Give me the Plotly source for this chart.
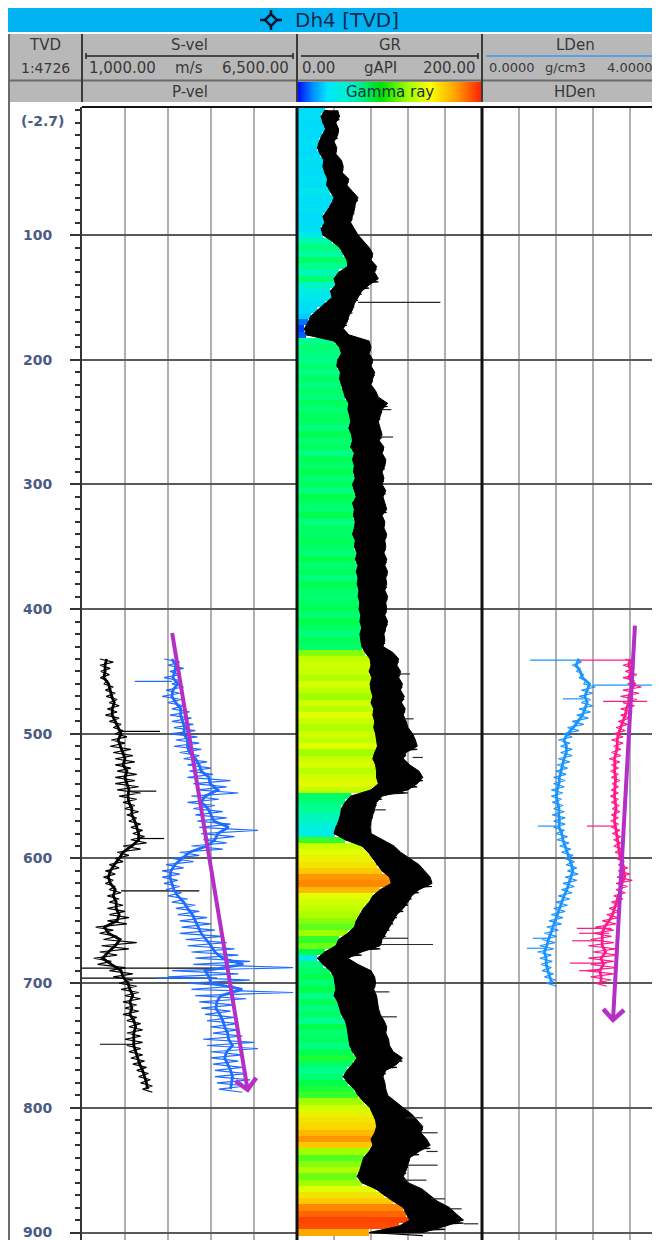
import plotly.graph_objects as go

W, H = 660, 1240
OFF = 8  # the page body adds an 8 px margin, so draw everything 8 px up/left


def px(x):
    return (x - OFF) / W


def py(y):
    return 1 - (y - OFF) / H


# ---------------- data ----------------
# GR track, 5 m samples, left / right edge of the noisy black curve (gAPI)
gr_depth = list(range(0, 905, 5))
gr_lo = [30, 26, 28, 31, 27, 24, 22, 25, 29, 28,
         30, 33, 32, 36, 40, 37, 33, 28, 30, 26,
         28, 38, 46, 50, 54, 55, 45, 40, 42, 36,
         38, 30, 22, 15, 12, 8, 10, 40, 46, 48,
         44, 43, 47, 46, 48, 50, 52, 56, 55, 57,
         58, 56, 59, 60, 58, 62, 60, 62, 61, 63,
         60, 62, 64, 60, 62, 61, 63, 62, 60, 63,
         62, 65, 63, 66, 64, 66, 65, 67, 66, 68,
         67, 69, 68, 70, 68, 69, 70, 74, 79, 80,
         78, 81, 79, 80, 82, 80, 83, 82, 84, 83,
         85, 86, 87, 84, 82, 85, 86, 86, 88, 80,
         58, 52, 48, 47, 45, 42, 40, 52, 70, 77,
         82, 86, 92, 100, 102, 90, 82, 78, 72, 68,
         64, 62, 55, 45, 42, 30, 22, 28, 36, 40,
         41, 42, 40, 44, 46, 48, 52, 54, 55, 56,
         57, 60, 65, 60, 54, 50, 55, 62, 66, 72,
         79, 82, 85, 86, 84, 80, 82, 78, 72, 70,
         68, 65, 70, 85, 94, 104, 115, 118, 122, 110,
         78]
gr_hi = [44, 46, 42, 45, 44, 40, 43, 42, 48, 50,
         49, 56, 54, 60, 66, 63, 62, 60, 58, 62,
         66, 72, 78, 82, 80, 86, 84, 88, 78, 70,
         66, 62, 60, 56, 54, 50, 56, 78, 80, 78,
         82, 80, 84, 82, 80, 85, 88, 98, 92, 90,
         88, 90, 92, 89, 94, 92, 96, 95, 92, 94,
         92, 96, 93, 95, 97, 92, 95, 94, 97, 95,
         96, 94, 97, 95, 98, 96, 97, 95, 98, 96,
         97, 95, 98, 96, 94, 95, 93, 104, 110, 108,
         112, 110, 114, 112, 116, 113, 117, 115, 118, 120,
         125, 128, 130, 118, 115, 122, 132, 136, 130, 120,
         92, 86, 84, 82, 80, 79, 80, 92, 105, 112,
         122, 132, 138, 144, 146, 132, 124, 120, 115, 108,
         104, 100, 96, 92, 90, 70, 55, 66, 80, 84,
         85, 83, 86, 87, 88, 90, 94, 97, 96, 99,
         100, 104, 114, 108, 96, 93, 95, 96, 98, 106,
         115, 124, 130, 136, 134, 140, 144, 132, 122, 120,
         118, 115, 120, 135, 144, 152, 165, 172, 180, 160,
         136]
# value that sets the colour of the fill stripe at each sample
gr_fill = [28, 30, 27, 29, 26, 30, 28, 27, 30, 29,
           28, 31, 29, 33, 30, 28, 31, 27, 29, 30,
           36, 50, 58, 52, 62, 55, 48, 60, 45, 38,
           35, 30, 28, 24, 14, 8, 12, 55, 60, 58,
           56, 60, 57, 62, 58, 61, 59, 63, 60, 64,
           62, 58, 65, 60, 63, 57, 64, 61, 66, 60,
           63, 58, 66, 62, 60, 65, 57, 63, 61, 64,
           62, 59, 66, 60, 64, 58, 65, 62, 60, 63,
           64, 60, 66, 62, 58, 64, 61, 78, 84, 86,
           85, 82, 87, 84, 80, 86, 83, 88, 85, 82,
           86, 84, 88, 80, 85, 87, 83, 86, 89, 84,
           62, 58, 55, 48, 45, 40, 38, 72, 85, 88,
           90, 92, 96, 102, 104, 98, 88, 86, 84, 82,
           78, 75, 80, 72, 76, 66, 36, 58, 62, 65,
           60, 66, 56, 64, 58, 62, 55, 66, 60, 63,
           58, 64, 70, 62, 56, 60, 66, 70, 72, 80,
           86, 90, 92, 94, 98, 102, 96, 80, 74, 78,
           82, 76, 80, 88, 92, 96, 104, 112, 120, 118,
           100]
gr_spk_depth = [154, 240, 262, 452, 488, 519, 561, 664, 669, 707, 727,
                808, 820, 835, 846, 858, 873, 881, 893]
gr_spk_from = [66, 92, 90, 110, 115, 125, 84, 92, 90, 84, 92,
               118, 134, 140, 120, 115, 145, 165, 180]
gr_spk_to = [155, 102, 104, 122, 126, 136, 96, 120, 147, 100, 108,
             136, 152, 152, 152, 140, 160, 178, 196]

# S-vel / P-vel track (m/s)
vel_depth = list(range(440, 790, 5))
sv_lo = [1460, 1460, 1480, 1470, 1560, 1600, 1620, 1700, 1650, 1600,
         1700, 1800, 1850, 1750, 1720, 1800, 1850, 1850, 1900, 1850,
         1850, 1900, 1950, 2050, 2100, 2150, 2200, 2250, 2300, 2250,
         2050, 1900, 1850, 1700, 1600, 1550, 1600, 1700, 1650, 1700,
         1650, 1700, 1650, 1350, 1450, 1550, 1500, 1450, 1300, 1400,
         1700, 1800, 1950, 2000, 2100, 2050, 2100, 2050, 2150, 2200,
         2150, 2100, 2150, 2200, 2250, 2300, 2400, 2450, 2500, 2550]
sv_hi = [1800, 1720, 1700, 1650, 1800, 1850, 1900, 1950, 1900, 1950,
         2000, 2050, 2150, 2100, 2250, 2300, 2350, 2250, 2400, 2350,
         2450, 2500, 2400, 2350, 2450, 2400, 2500, 2550, 2600, 2650,
         2500, 2200, 2050, 1950, 1850, 1800, 1850, 2000, 1950, 2050,
         2100, 2200, 2150, 1800, 1900, 2400, 2200, 1900, 1750, 2100,
         2300, 2300, 2400, 2450, 2500, 2400, 2450, 2400, 2500, 2550,
         2500, 2550, 2500, 2550, 2600, 2650, 2700, 2750, 2800, 2800]
pv_lo = [3100, 3200, 3250, 3100, 3300, 3150, 3050, 3200, 3300, 3250,
         3300, 3350, 3250, 3400, 3350, 3500, 3600, 3700, 3750, 3700,
         3850, 3950, 3800, 3700, 3850, 3900, 3950, 4000, 4050, 4100,
         3800, 3500, 3300, 3150, 3050, 3050, 3100, 3150, 3200, 3300,
         3400, 3450, 3500, 3550, 3500, 3650, 3700, 3800, 3900, 3850,
         3300, 3200, 3700, 3800, 3900, 4000, 4050, 4150, 4200, 4300,
         4350, 4100, 4200, 4300, 4300, 4350, 4400, 4400, 4450, 4500]
pv_hi = [3500, 3600, 3500, 3550, 3600, 3500, 3550, 3600, 3750, 3800,
         3850, 3900, 3950, 4000, 4050, 4000, 4200, 4300, 4350, 4800,
         4700, 5000, 4500, 4400, 4600, 4700, 4800, 5500, 4900, 4700,
         4600, 4000, 3850, 3600, 3500, 3450, 3500, 3550, 3700, 3900,
         4000, 4200, 4300, 4400, 4600, 4700, 4900, 5000, 5300, 6400,
         5000, 5300, 4900, 6400, 5200, 4900, 4800, 4900, 5000, 5000,
         5100, 5400, 5500, 5100, 5000, 5100, 5200, 5300, 5200, 5100]
sv_spk_depth = [498, 546, 584, 626, 688, 696, 749]
sv_spk_from = [2000, 2200, 2400, 2000, 1000, 1000, 1460]
sv_spk_to = [2995, 2900, 3100, 4000, 4450, 4450, 2300]
pv_spk_depth = [458, 696]
pv_spk_from = [2350, 2900]
pv_spk_to = [3300, 4000]

# LDen / HDen track (g/cm3)
den_depth = list(range(440, 705, 5))
ld_lo = [2.05, 1.95, 2.05, 2.10, 2.20, 2.15, 2.10, 2.15, 2.10, 2.05,
         1.95, 1.85, 1.75, 1.65, 1.70, 1.70, 1.65, 1.62, 1.60, 1.55,
         1.55, 1.50, 1.50, 1.52, 1.55, 1.52, 1.55, 1.55, 1.60, 1.62,
         1.68, 1.72, 1.78, 1.82, 1.85, 1.80, 1.75, 1.72, 1.65, 1.60,
         1.55, 1.50, 1.45, 1.40, 1.35, 1.30, 1.25, 1.20, 1.25, 1.28,
         1.30, 1.35, 1.40]
ld_hi = [2.15, 2.12, 2.20, 2.25, 2.45, 2.40, 2.35, 2.40, 2.35, 2.30,
         2.20, 2.10, 1.95, 1.90, 1.95, 1.95, 1.90, 1.85, 1.82, 1.80,
         1.78, 1.75, 1.72, 1.75, 1.78, 1.80, 1.80, 1.78, 1.85, 1.88,
         1.92, 1.97, 2.00, 2.05, 2.08, 2.05, 2.00, 1.95, 1.90, 1.85,
         1.80, 1.75, 1.72, 1.65, 1.62, 1.58, 1.55, 1.50, 1.52, 1.50,
         1.55, 1.60, 1.62]
hd_lo = [3.10, 3.05, 3.10, 3.05, 3.15, 3.05, 3.00, 3.05, 3.00, 3.00,
         2.95, 2.90, 2.85, 2.80, 2.85, 2.80, 2.75, 2.80, 2.78, 2.80,
         2.82, 2.80, 2.78, 2.80, 2.82, 2.80, 2.78, 2.80, 2.82, 2.85,
         2.85, 2.88, 2.90, 2.95, 2.95, 2.92, 2.90, 2.90, 2.85, 2.80,
         2.75, 2.70, 2.60, 2.45, 2.40, 2.35, 2.30, 2.40, 2.30, 2.35,
         2.25, 2.35, 2.45]
hd_hi = [3.30, 3.30, 3.35, 3.30, 3.45, 3.40, 3.35, 3.30, 3.25, 3.20,
         3.15, 3.10, 3.05, 3.05, 3.00, 3.00, 2.98, 2.95, 2.95, 2.98,
         2.95, 2.95, 2.95, 2.97, 2.98, 2.95, 2.95, 2.98, 3.00, 3.00,
         3.02, 3.05, 3.08, 3.15, 3.20, 3.25, 3.15, 3.10, 3.05, 3.00,
         2.98, 2.95, 2.90, 2.85, 2.80, 2.85, 2.90, 2.95, 2.85, 2.90,
         2.85, 2.80, 2.70]
ld_spk_depth = [441, 461, 472, 574, 664, 672]
ld_spk_from = [1.04, 2.40, 1.75, 1.21, 1.10, 0.97]
ld_spk_to = [2.10, 3.85, 2.20, 1.60, 1.45, 1.40]
hd_spk_depth = [441, 474, 574, 656, 660, 666, 684, 690]
hd_spk_from = [2.12, 2.62, 2.27, 2.05, 2.10, 1.95, 1.90, 2.10]
hd_spk_to = [3.26, 3.57, 2.90, 2.80, 2.75, 2.60, 2.70, 2.55]

# trend arrows (tail -> head)
vel_arrow = dict(x0=3300, d0=418, x1=5250, d1=788)
den_arrow = dict(x0=3.31, d0=412, x1=2.83, d1=732)

depth_ticks = [100, 200, 300, 400, 500, 600, 700, 800, 900]

FILL_CS = [[0.0, "#0000ff"], [0.06, "#0060ff"], [0.125, "#00d8ff"],
           [0.2, "#00f0e0"], [0.275, "#00ff90"], [0.34, "#00ff40"],
           [0.4, "#a0ff00"], [0.44, "#e0ff00"], [0.475, "#ffd000"],
           [0.525, "#ff8000"], [0.625, "#ff3000"], [1.0, "#ff0000"]]
HEAD_CS = [[0.0, "#0010ff"], [0.08, "#0090ff"], [0.16, "#00e8ff"],
           [0.3, "#00f0c0"], [0.45, "#00e000"], [0.6, "#a0ff00"],
           [0.72, "#ffff00"], [0.86, "#ffa000"], [1.0, "#ff2000"]]


def zigzag(depth, lo, hi, step=5):
    xs, ys = [], []
    for d, a, b in zip(depth, lo, hi):
        xs += [a, b]
        ys += [d, d + step / 2]
    return xs, ys


def spikes(depth, a, b):
    xs, ys = [], []
    for d, u, v in zip(depth, a, b):
        xs += [u, v, None]
        ys += [d, d, None]
    return xs, ys


def curve(fig, depth, lo, hi, sd, sa, sb, color, xa):
    # noisy log: scribble between its edges, a thicker core line and a few spikes
    zx, zy = zigzag(depth, lo, hi)
    fig.add_trace(go.Scatter(x=zx, y=zy, mode="lines", line=dict(color=color, width=1.2),
                             xaxis=xa, yaxis="y", showlegend=False, hoverinfo="skip"))
    mid = [(a + b) / 2 for a, b in zip(lo, hi)]
    fig.add_trace(go.Scatter(x=mid, y=depth, mode="lines", line=dict(color=color, width=2.8),
                             xaxis=xa, yaxis="y", showlegend=False, hoverinfo="skip"))
    sx, sy = spikes(sd, sa, sb)
    fig.add_trace(go.Scatter(x=sx, y=sy, mode="lines", line=dict(color=color, width=1.2),
                             xaxis=xa, yaxis="y", showlegend=False, hoverinfo="skip"))


fig = go.Figure()

# GR colour fill
fig.add_trace(go.Bar(
    y=gr_depth, x=gr_lo, base=0, orientation="h", width=5,
    marker=dict(color=gr_fill, colorscale=FILL_CS, cmin=0, cmax=200, line=dict(width=0)),
    xaxis="x2", yaxis="y", showlegend=False, hoverinfo="skip"))
# GR black curve band
fig.add_trace(go.Scatter(
    x=gr_lo + gr_hi[::-1], y=gr_depth + gr_depth[::-1], fill="toself",
    fillcolor="black", mode="lines", line=dict(color="black", width=1),
    xaxis="x2", yaxis="y", showlegend=False, hoverinfo="skip"))
zx, zy = zigzag(gr_depth, gr_lo, gr_hi)
fig.add_trace(go.Scatter(x=zx, y=zy, mode="lines", line=dict(color="black", width=1.2),
                         xaxis="x2", yaxis="y", showlegend=False, hoverinfo="skip"))
sx, sy = spikes(gr_spk_depth, gr_spk_from, gr_spk_to)
fig.add_trace(go.Scatter(x=sx, y=sy, mode="lines", line=dict(color="#2a2a2a", width=1.2),
                         xaxis="x2", yaxis="y", showlegend=False, hoverinfo="skip"))

curve(fig, vel_depth, sv_lo, sv_hi, sv_spk_depth, sv_spk_from, sv_spk_to, "#000000", "x")
curve(fig, vel_depth, pv_lo, pv_hi, pv_spk_depth, pv_spk_from, pv_spk_to, "#1f6cff", "x")
curve(fig, den_depth, ld_lo, ld_hi, ld_spk_depth, ld_spk_from, ld_spk_to, "#1a94ff", "x3")
curve(fig, den_depth, hd_lo, hd_hi, hd_spk_depth, hd_spk_from, hd_spk_to, "#ff1a8c", "x3")

# header colour ramp for "Gamma ray"
fig.add_trace(go.Heatmap(z=[[0, 1]], x=[0, 1], y=[0], zsmooth="best", colorscale=HEAD_CS,
                         showscale=False, xaxis="x4", yaxis="y4", hoverinfo="skip"))

TOP = 107
grid_x = dict(showgrid=True, gridcolor="#b0b0b0", gridwidth=2, showticklabels=False,
              ticks="", zeroline=False, showline=False, anchor="y")
lab_font = dict(family="DejaVu Sans", size=14, color="#4c5a86", weight="bold")

fig.update_layout(
    width=W, height=H, margin=dict(l=0, r=0, t=0, b=0),
    paper_bgcolor="white", plot_bgcolor="white", showlegend=False, bargap=0,
    xaxis=dict(domain=[px(82), px(297)], range=[1000, 6500], tick0=1000, dtick=1100, **grid_x),
    xaxis2=dict(domain=[px(297), px(482)], range=[0, 200], tick0=0, dtick=40, **grid_x),
    xaxis3=dict(domain=[px(482), px(660)], range=[0, 3.85], tick0=0, dtick=0.8, **grid_x),
    yaxis=dict(domain=[py(1240), py(TOP)], range=[906, -2.7], tickmode="array",
               tickvals=depth_ticks, ticktext=[str(v) for v in depth_ticks],
               ticks="outside", ticklen=10, tickwidth=2, tickcolor="#333333",
               minor=dict(tick0=0, dtick=10, ticks="outside", ticklen=5, tickwidth=1.5,
                          tickcolor="#333333", showgrid=False),
               showgrid=True, gridcolor="#5a5a5a", gridwidth=2, zeroline=False,
               showline=True, linecolor="#333333", linewidth=2,
               tickfont=lab_font, ticklabelstandoff=15, anchor="x"),
    xaxis4=dict(domain=[px(298), px(481)], range=[0, 1], visible=False, anchor="y4"),
    yaxis4=dict(domain=[py(102), py(82)], range=[-0.5, 0.5], visible=False, anchor="x4"),
)

shapes = []


def rect(x0, y0, x1, y1, fill):
    shapes.append(dict(type="rect", xref="paper", yref="paper", x0=px(x0), x1=px(x1),
                       y0=py(y1), y1=py(y0), fillcolor=fill, line=dict(width=0), layer="below"))


def seg(x0, y0, x1, y1, color, width, layer="above"):
    shapes.append(dict(type="line", xref="paper", yref="paper", x0=px(x0), x1=px(x1),
                       y0=py(y0), y1=py(y1), line=dict(color=color, width=width), layer=layer))


rect(8, 8, 660, 32, "#00b2f0")
rect(8, 34, 660, 102, "#b8b8b8")
seg(8, 80.5, 660, 80.5, "#6a6a6a", 2)
for cx in (82, 297, 482):
    seg(cx, 34, cx, 102, "#3a3a3a", 2)
# curve style lines under the curve names
seg(86, 56, 293, 56, "#222222", 1.5)
seg(86, 53, 86, 59, "#222222", 1.5)
seg(293, 53, 293, 59, "#222222", 1.5)
seg(301, 56, 478, 56, "#222222", 1.5)
seg(478, 53, 478, 59, "#222222", 1.5)
seg(486, 56, 660, 56, "#3a9af0", 1.5)
# frame
seg(9, 34, 9, 1240, "#6a6a6a", 2)
seg(82, TOP, 660, TOP, "#111111", 2)
seg(297, TOP, 297, 1240, "#111111", 3)
seg(482, TOP, 482, 1240, "#111111", 3)

# well symbol in the title bar
cx, cy, r = 271, 20, 6
shapes.append(dict(type="path", xref="paper", yref="paper",
                   path=f"M {px(cx - r)},{py(cy)} L {px(cx)},{py(cy - r)} L {px(cx + r)},{py(cy)} "
                        f"L {px(cx)},{py(cy + r)} Z",
                   line=dict(color="#0a1630", width=2.5)))
seg(cx - r - 5, cy, cx - r, cy, "#0a1630", 2.5)
seg(cx + r, cy, cx + r + 5, cy, "#0a1630", 2.5)
seg(cx, cy - r - 4, cx, cy - r, "#0a1630", 2.5)
seg(cx, cy + r, cx, cy + r + 4, "#0a1630", 2.5)

fig.update_layout(shapes=shapes)

ann = []


def text(x, y, s, size=15, anchor="center", color="#383838", weight="normal"):
    ann.append(dict(xref="paper", yref="paper", x=px(x), y=py(y), text=s, showarrow=False,
                    xanchor=anchor, yanchor="middle",
                    font=dict(family="DejaVu Sans", size=size, color=color, weight=weight)))


text(293, 20, "Dh4 [TVD]", size=20, anchor="left", color="#1a2850")
text(45, 45, "TVD")
text(189.5, 45, "S-vel")
text(389.5, 45, "GR")
text(575, 45, "LDen")
text(45, 68, "1:4726", size=14)
text(87, 68, "1,000.00", anchor="left")
text(189, 68, "m/s")
text(291, 68, "6,500.00", anchor="right")
text(300, 68, "0.00", anchor="left")
text(380, 68, "gAPI")
text(478, 68, "200.00", anchor="right")
text(487, 68, "0.0000", size=13, anchor="left")
text(565, 68, "g/cm3", size=13)
text(655, 68, "4.0000", size=13, anchor="right")
text(189.5, 92, "P-vel")
text(389.5, 92, "Gamma ray", color="#14324a")
text(575, 92, "HDen")

ann.append(dict(xref="paper", yref="y", x=px(42), y=-2.7, yanchor="top", yshift=-4,
                text="(-2.7)", showarrow=False, xanchor="center", font=lab_font))

for a, xr in ((vel_arrow, "x"), (den_arrow, "x3")):
    ann.append(dict(xref=xr, yref="y", axref=xr, ayref="y", x=a["x1"], y=a["d1"],
                    ax=a["x0"], ay=a["d0"], showarrow=True, arrowhead=4, arrowsize=1,
                    arrowwidth=4, arrowcolor="#b52fc6", standoff=0, text=""))

fig.update_layout(annotations=ann)

fig.write_html("out.html")
